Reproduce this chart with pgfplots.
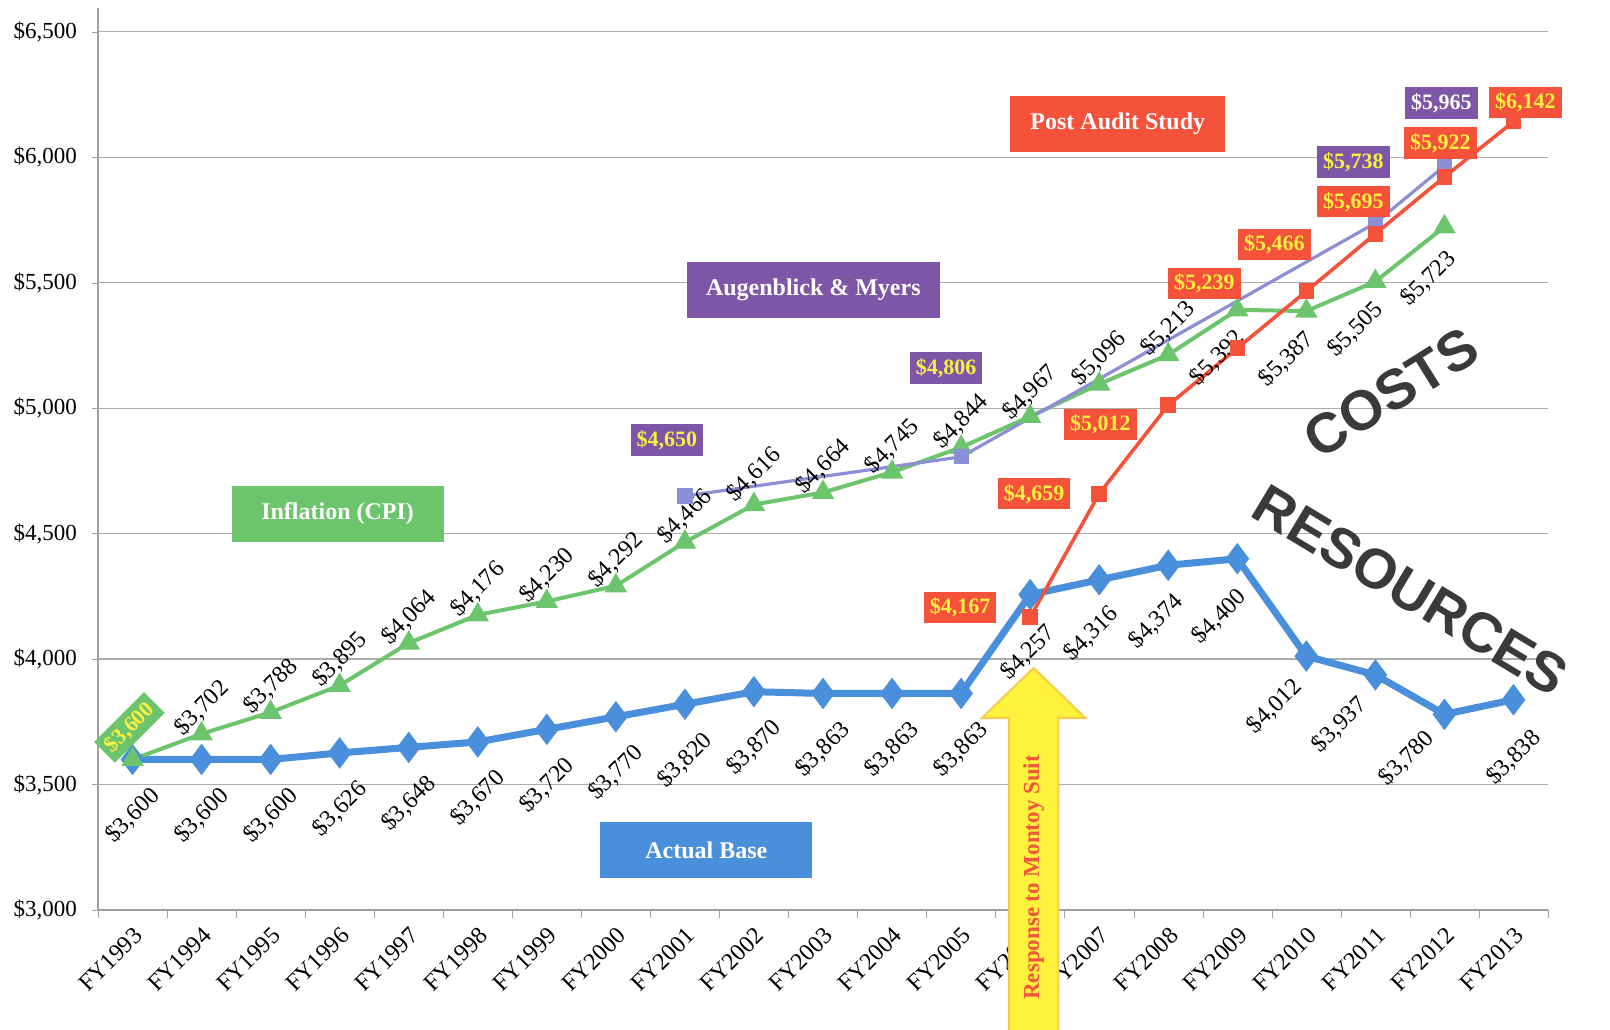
\documentclass[border=0pt]{standalone}
\usepackage{fontspec}
\setmainfont{Liberation Serif}
\newfontfamily\bigsans{Liberation Sans}
\usepackage{pgfplots}
\usepackage{pgfplotstable}
\pgfplotsset{compat=1.18}

\definecolor{baseblue}{HTML}{4A8FDB}
\definecolor{cpigreen}{HTML}{6CC46C}
\definecolor{auditred}{HTML}{F4523B}
\definecolor{amline}{HTML}{8C8FD4}
\definecolor{ambox}{HTML}{7D56A8}
\definecolor{labyellow}{HTML}{F8F040}
\definecolor{arrowyellow}{HTML}{FFF23C}
\definecolor{arrowedge}{HTML}{F6CD4A}
\definecolor{suittext}{HTML}{F0573C}
\definecolor{bigtext}{HTML}{3A3A3A}

% actual base per pupil (lx, ly = label offset in pt)
\pgfplotstableread{
x y lx ly
0 3600 0 -28
1 3600 0 -28
2 3600 0 -28
3 3626 0 -28
4 3648 0 -28
5 3670 0 -28
6 3720 0 -28
7 3770 0 -28
8 3820 0 -28
9 3870 0 -28
10 3863 0 -28
11 3863 0 -28
12 3863 0 -28
13 4257 -1 -29
14 4316 -4 -27
15 4374 -6 -28
16 4400 -9 -29
17 4012 -16 -25
18 3937 -18 -25
19 3780 -19 -22
20 3838 0 -29
}\actualbase

% inflation (CPI)
\pgfplotstableread{
x y lx ly
0 3600 -1.5 16
1 3702 0 13
2 3788 0 13
3 3895 0 13
4 4064 0 13
5 4176 0 13
6 4230 0 13
7 4292 0 13
8 4466 0 13
9 4616 0 15
10 4664 0 13
11 4745 0 13
12 4844 0 13
13 4967 0 12
14 5096 0 13
15 5213 0 13
16 5392 -10 -24
17 5387 -10 -24
18 5505 -10 -24
19 5723 -8 -26
}\inflation

% Augenblick & Myers
\pgfplotstableread{
x y lx ly
8 4650 -9 28
12 4806 -7.5 44.5
18 5738 -11 30.5
19 5965 -1.5 31.5
}\augenblick

% Post Audit Study
\pgfplotstableread{
x y lx ly
13 4167 -35 5
14 4659 -32.5 0
15 5012 -34 -9.5
16 5239 -16.5 32.5
17 5466 -16 23.5
18 5695 -11 16
19 5922 -2 17
20 6142 6 9.5
}\postaudit

\pgfplotsset{
    labelled/.style={
        point meta=y,
        nodes near coords={\$\pgfmathprintnumber{\pgfplotspointmeta}},
        visualization depends on={\thisrow{lx}\as\labx},
        visualization depends on={\thisrow{ly}\as\laby},
        every node near coord/.append style={xshift=\labx*1pt, yshift=\laby*1pt, anchor=center},
    },
    slanted/.style={every node near coord/.append style={rotate=45, text=black,
        font=\fontsize{12}{14}\selectfont}},
    boxed/.style={every node near coord/.append style={fill=#1, text=labyellow,
        inner sep=3pt, font=\bfseries\fontsize{11}{13}\selectfont}},
}

\begin{document}
\begin{tikzpicture}
\path[use as bounding box] (-49pt,-59.5pt) rectangle (756pt,455pt);
\begin{axis}[
    scale only axis,
    width=725pt, height=451pt,
    xmin=-0.5, xmax=20.5,
    ymin=3000, ymax=6595,
    clip=false,
    axis x line=bottom, axis y line=left,
    axis line style={draw=gray!75, line width=0.6pt, -},
    ytick={3000,3500,...,6500},
    ymajorgrids,
    major grid style={draw=gray!65, line width=0.6pt},
    xtick={0,...,20},
    xticklabels={FY1993,FY1994,FY1995,FY1996,FY1997,FY1998,FY1999,FY2000,FY2001,FY2002,FY2003,FY2004,FY2005,FY2006,FY2007,FY2008,FY2009,FY2010,FY2011,FY2012,FY2013},
    minor xtick={-0.5,0.5,...,20.5},
    tick align=outside,
    major x tick style={draw=none},
    minor x tick style={draw=gray!75},
    minor tick length=4pt,
    major tick length=3pt,
    y tick style={draw=gray!75},
    /pgf/number format/.cd, fixed, precision=0, 1000 sep={,}, assume math mode=true,
    /pgfplots/.cd,
    yticklabel={\$\pgfmathprintnumber{\tick}},
    tick label style={font=\fontsize{11.5}{13}\selectfont},
    yticklabel style={xshift=-4pt},
    xticklabel style={rotate=45, anchor=north east, font=\fontsize{12}{14}\selectfont},
]

% actual base
\addplot[baseblue, line width=3.5pt, mark=diamond*, mark size=5pt, labelled, slanted]
    table[x=x, y=y] {\actualbase};

% inflation
\addplot[cpigreen, line width=2pt, mark=triangle*, mark size=4.5pt]
    table[x=x, y=y] {\inflation};
\addplot[draw=none, mark=none, labelled, slanted, skip coords between index={0}{1}]
    table[x=x, y=y] {\inflation};
\addplot[draw=none, mark=none, labelled, slanted, boxed=cpigreen,
    every node near coord/.append style={inner sep=2.5pt}, skip coords between index={1}{30}]
    table[x=x, y=y] {\inflation};

% Augenblick & Myers
\addplot[amline, line width=1.6pt, mark=square*, mark size=3pt, labelled, boxed=ambox,
    every node near coord/.append style={text=labyellow}]
    table[x=x, y=y] {\augenblick};
\addplot[draw=none, mark=none, labelled, boxed=ambox,
    every node near coord/.append style={text=white}, skip coords between index={0}{3}]
    table[x=x, y=y] {\augenblick};

% Post Audit Study
\addplot[auditred, line width=1.8pt, mark=square*, mark size=3pt, labelled, boxed=auditred]
    table[x=x, y=y] {\postaudit};

% series name boxes
\tikzset{namebox/.style={text=white, font=\bfseries\fontsize{12}{14}\selectfont,
    minimum height=28pt, inner sep=0pt}}
\node[namebox, fill=auditred, minimum width=107.5pt] at (axis cs:14.27,6133) {Post Audit Study};
\node[namebox, fill=ambox, minimum width=126.5pt] at (axis cs:9.86,5471) {Augenblick \& Myers};
\node[namebox, fill=cpigreen, minimum width=106pt] at (axis cs:2.97,4578) {Inflation (CPI)};
\node[namebox, fill=baseblue, minimum width=106pt] at (axis cs:8.31,3239) {Actual Base};

% anchors for the arrow and the big words
\coordinate (tip) at (axis cs:13.05,3965);
\coordinate (hl) at (axis cs:12.30,3765);
\coordinate (hr) at (axis cs:13.80,3765);
\coordinate (sl) at (axis cs:12.69,3765);
\coordinate (sr) at (axis cs:13.41,3765);
\coordinate (bl) at (axis cs:12.69,2480);
\coordinate (br) at (axis cs:13.41,2480);
\coordinate (suit) at (axis cs:13.05,3130);
\coordinate (costs) at (axis cs:18.23,5061);
\coordinate (res) at (axis cs:18.51,4275);
\end{axis}

\fill[arrowyellow, draw=arrowedge, line width=1pt]
    (tip) -- (hr) -- (sr) -- (br) -- (bl) -- (sl) -- (hl) -- cycle;
\node[rotate=90, text=suittext, font=\bfseries\fontsize{11.5}{13}\selectfont] at (suit) {Response to Montoy Suit};

\node[rotate=32, text=bigtext, font=\bigsans\bfseries\fontsize{28}{30}\selectfont] at (costs) {COSTS};
\node[rotate=-31, text=bigtext, font=\bigsans\bfseries\fontsize{28}{30}\selectfont] at (res) {RESOURCES};
\end{tikzpicture}
\end{document}
